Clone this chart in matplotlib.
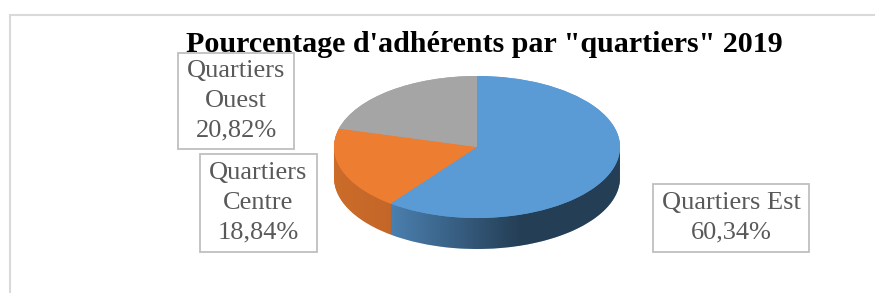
import matplotlib
matplotlib.use('Agg')
import matplotlib.pyplot as plt
import numpy as np
from matplotlib.path import Path
from matplotlib.patches import PathPatch, Rectangle

# data
labels = ['Quartiers Est', 'Quartiers Centre', 'Quartiers Ouest']
shares = [60.34, 18.84, 20.82]
box_texts = ['Quartiers Est\n60,34%', 'Quartiers\nCentre\n18,84%', 'Quartiers\nOuest\n20,82%']
colors = ['#5B9BD5', '#ED7D31', '#A5A5A5']
title = 'Pourcentage d\'adhérents par "quartiers" 2019'

W, H = 875, 293
fig = plt.figure(figsize=(W / 100, H / 100), dpi=100)
ax = fig.add_axes([0, 0, 1, 1])

# pie geometry in pixels (centre, half axes, thickness)
cx, cy, a, b, depth_px = 477, 147, 143, 71, 31
d = depth_px / b

# side of the 3d pie: stacked pies
for k in np.linspace(d, 0, 40):
    ax.pie(shares, colors=colors, startangle=90, counterclock=False,
           center=(0, -k), radius=1, wedgeprops=dict(linewidth=0))

# shading of the side, darker to the right
th = np.linspace(np.pi, 2 * np.pi, 200)
verts = np.vstack([np.c_[np.cos(th), np.sin(th)],
                   np.c_[np.cos(th[::-1]), np.sin(th[::-1]) - d]])
side = PathPatch(Path(verts), facecolor='none', edgecolor='none')
ax.add_patch(side)
xs = np.linspace(-1, 1, 300)
shade = np.zeros((1, len(xs), 4))
shade[..., 3] = np.interp(xs, [-1, -0.6, 0.3, 1], [0.14, 0.18, 0.6, 0.6])
im = ax.imshow(shade, extent=(-1, 1, -1 - d, 0), aspect='auto', zorder=3)
im.set_clip_path(side)

# top face
wedges, _ = ax.pie(shares, colors=colors, startangle=90, counterclock=False,
                   center=(0, 0), radius=1, wedgeprops=dict(linewidth=0))
for w in wedges:
    w.set_zorder(4)

ax.set_aspect('auto')
ax.set_xlim(-cx / a, (W - cx) / a)
ax.set_ylim(-(H - cy) / b, cy / b)
ax.axis('off')

# chart area border
fig.patches.append(Rectangle((10 / W, -0.1), 1.2, 1.1 - 15 / H, transform=fig.transFigure,
                             facecolor='none', edgecolor='#D9D9D9', linewidth=1.5))

fig.text(484 / W, 1 - 52 / H, title, ha='center', va='baseline',
         fontsize=21.6, fontweight='bold', family='Liberation Serif', color='black')

# label boxes (left, top, right, bottom in pixels)
boxes = [(653, 184, 809, 252), (200, 154, 317, 252), (178, 53, 294, 149)]
for txt, (x0, y0, x1, y1) in zip(box_texts, boxes):
    fig.patches.append(Rectangle((x0 / W, 1 - y1 / H), (x1 - x0) / W, (y1 - y0) / H,
                                 transform=fig.transFigure, facecolor='white',
                                 edgecolor='#BFBFBF', linewidth=1.3, zorder=5))
    fig.text((x0 + x1) / 2 / W, 1 - (y0 + y1) / 2 / H, txt, ha='center', va='center',
             fontsize=19, family='Liberation Serif', color='#595959',
             linespacing=1.45, zorder=6)

fig.savefig('out.png', dpi=100)
